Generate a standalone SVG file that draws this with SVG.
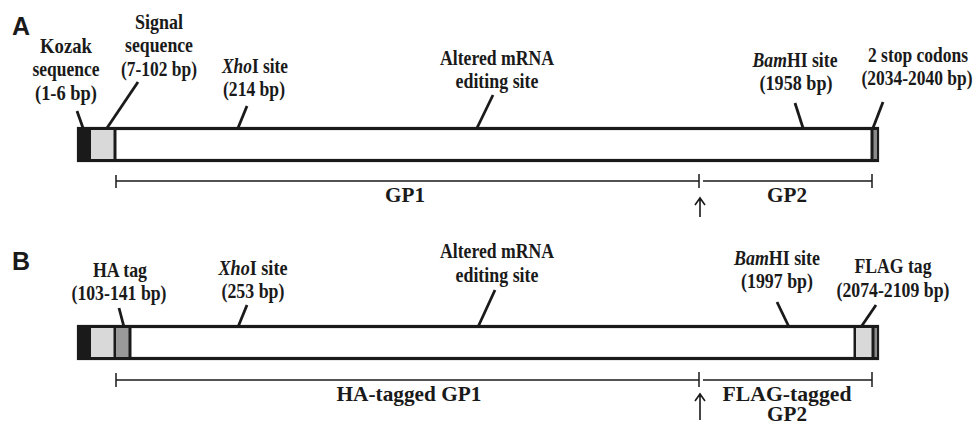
<svg xmlns="http://www.w3.org/2000/svg" width="976" height="426" viewBox="0 0 976 426">
<defs>
<style>
text{font-family:"Liberation Serif","Times New Roman",serif;font-weight:bold;font-size:21px;fill:#1a1a1a;text-anchor:middle}
.panel{font-family:"Liberation Sans",Arial,sans-serif;font-size:25px;text-anchor:start}
.it{font-style:italic}
.bar{fill:#fff;stroke:#1a1a1a;stroke-width:3.2}
.div{stroke:#1a1a1a;stroke-width:3}
.lead{stroke:#1a1a1a;stroke-width:2.8;fill:none}
.scale{stroke:#1a1a1a;stroke-width:1.5;fill:none}
.arrow{stroke:#1a1a1a;stroke-width:1.6;fill:none}
</style>
</defs>
<rect width="976" height="426" fill="#fff"/>

<text class="panel" x="12" y="35">A</text>
<text class="panel" x="12" y="270">B</text>

<g id="barA">
<rect class="bar" x="78.5" y="128.5" width="799" height="32"/>
<rect x="78" y="128" width="13" height="33" fill="#1a1a1a"/>
<rect x="91" y="130" width="23" height="29" fill="#d9d9d9"/>
<line class="div" x1="115" y1="128" x2="115" y2="161"/>
<rect x="872" y="130" width="5" height="29" fill="#8a8a8a"/>
<line class="div" x1="872" y1="128" x2="872" y2="161"/>
</g>

<g id="barB">
<rect class="bar" x="78.5" y="326.5" width="799" height="32"/>
<rect x="78" y="326" width="13" height="33" fill="#1a1a1a"/>
<rect x="91" y="328" width="23" height="29" fill="#d9d9d9"/>
<line class="div" x1="115" y1="326" x2="115" y2="359"/>
<rect x="116" y="328" width="13" height="29" fill="#999"/>
<line class="div" x1="130" y1="326" x2="130" y2="359"/>
<line class="div" x1="855" y1="326" x2="855" y2="359"/>
<rect x="856" y="328" width="16" height="29" fill="#d9d9d9"/>
<rect x="872" y="328" width="5" height="29" fill="#8a8a8a"/>
<line class="div" x1="873" y1="326" x2="873" y2="359"/>
</g>

<g id="labelsA">
<text x="66" y="53" textLength="52" lengthAdjust="spacingAndGlyphs">Kozak</text>
<text x="66" y="76" textLength="67" lengthAdjust="spacingAndGlyphs">sequence</text>
<text x="66" y="100" textLength="62" lengthAdjust="spacingAndGlyphs">(1-6 bp)</text>
<text x="159" y="29" textLength="48" lengthAdjust="spacingAndGlyphs">Signal</text>
<text x="159" y="52" textLength="68" lengthAdjust="spacingAndGlyphs">sequence</text>
<text x="159" y="76" textLength="76" lengthAdjust="spacingAndGlyphs">(7-102 bp)</text>
<text x="255" y="73" textLength="66" lengthAdjust="spacingAndGlyphs"><tspan class="it">Xho</tspan>I site</text>
<text x="254" y="96" textLength="62" lengthAdjust="spacingAndGlyphs">(214 bp)</text>
<text x="497" y="65" textLength="114" lengthAdjust="spacingAndGlyphs">Altered mRNA</text>
<text x="497" y="88" textLength="83" lengthAdjust="spacingAndGlyphs">editing site</text>
<text x="795" y="67" textLength="85" lengthAdjust="spacingAndGlyphs"><tspan class="it">Bam</tspan>HI site</text>
<text x="796" y="90" textLength="73" lengthAdjust="spacingAndGlyphs">(1958 bp)</text>
<text x="918" y="62" textLength="100" lengthAdjust="spacingAndGlyphs">2 stop codons</text>
<text x="917" y="85" textLength="111" lengthAdjust="spacingAndGlyphs">(2034-2040 bp)</text>
<text x="405" y="202" textLength="40" lengthAdjust="spacingAndGlyphs">GP1</text>
<text x="787" y="202" textLength="40" lengthAdjust="spacingAndGlyphs">GP2</text>
</g>

<g id="labelsB">
<text x="120" y="277" textLength="54" lengthAdjust="spacingAndGlyphs">HA tag</text>
<text x="119" y="300" textLength="95" lengthAdjust="spacingAndGlyphs">(103-141 bp)</text>
<text x="253" y="275" textLength="69" lengthAdjust="spacingAndGlyphs"><tspan class="it">Xho</tspan>I site</text>
<text x="253" y="298" textLength="63" lengthAdjust="spacingAndGlyphs">(253 bp)</text>
<text x="497" y="258" textLength="114" lengthAdjust="spacingAndGlyphs">Altered mRNA</text>
<text x="497" y="282" textLength="83" lengthAdjust="spacingAndGlyphs">editing site</text>
<text x="777" y="265" textLength="86" lengthAdjust="spacingAndGlyphs"><tspan class="it">Bam</tspan>HI site</text>
<text x="777" y="288" textLength="72" lengthAdjust="spacingAndGlyphs">(1997 bp)</text>
<text x="893" y="273" textLength="77" lengthAdjust="spacingAndGlyphs">FLAG tag</text>
<text x="893" y="297" textLength="113" lengthAdjust="spacingAndGlyphs">(2074-2109 bp)</text>
<text x="409" y="401" textLength="145" lengthAdjust="spacingAndGlyphs">HA-tagged GP1</text>
<text x="787" y="401" textLength="129" lengthAdjust="spacingAndGlyphs">FLAG-tagged</text>
<text x="787" y="421" textLength="40" lengthAdjust="spacingAndGlyphs">GP2</text>
</g>

<g id="connectors">
<line class="lead" x1="77" y1="111" x2="83" y2="128"/>
<line class="lead" x1="138" y1="82" x2="107" y2="128"/>
<line class="lead" x1="247" y1="106" x2="238" y2="128"/>
<line class="lead" x1="493" y1="95" x2="477" y2="128"/>
<line class="lead" x1="795" y1="103" x2="803" y2="128"/>
<line class="lead" x1="883" y1="102" x2="873" y2="128"/>

<line class="lead" x1="119" y1="308" x2="124" y2="327"/>
<line class="lead" x1="247" y1="305" x2="238" y2="327"/>
<line class="lead" x1="495" y1="290" x2="478" y2="327"/>
<line class="lead" x1="777" y1="302" x2="789" y2="327"/>
<line class="lead" x1="876" y1="305" x2="861" y2="327"/>

<path class="scale" d="M116 175V188M116 181H699M699 174V188M703 181H872M872 174V188"/>
<path class="scale" d="M116 373V387M116 380H699M699 372V387M703 380H872M872 372V387"/>

<path class="arrow" d="M700 198V217M695 205L700 198L705 205"/>
<path class="arrow" d="M700 394V420M695 401L700 394L705 401"/>
</g>
</svg>
